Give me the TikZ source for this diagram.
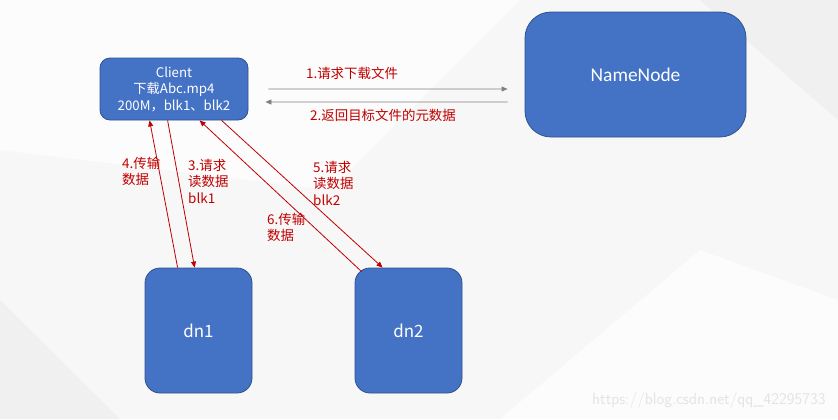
\documentclass[tikz,border=0pt]{standalone}
\usepackage{fontspec}
\setmainfont{Noto Sans CJK SC}
\newfontfamily\latinfont{Carlito}
\usetikzlibrary{arrows.meta, positioning, calc}
\definecolor{boxblue}{HTML}{4472C4}
\definecolor{boxedge}{HTML}{2F528F}
\definecolor{msgred}{HTML}{C00000}
\definecolor{msggray}{HTML}{808080}
\definecolor{bgbase}{HTML}{F7F7F7}
\definecolor{bglight}{HTML}{FCFCFC}
\definecolor{bgdark}{HTML}{F0F0F0}
\definecolor{wmgray}{HTML}{E4E4E4}

\begin{document}
\begin{tikzpicture}[x=1bp, y=-1bp,
  >={Triangle[length=6bp, width=5bp]},
  hostbox/.style={
    draw=boxedge, line width=0.8bp, fill=boxblue, text=white,
    rounded corners=#1, align=center, inner sep=0pt
  },
  hostbox/.default=14bp,
  getarr/.style={->, line width=0.8bp, msggray},
  redarr/.style={->, line width=0.8bp, msgred},
  graylbl/.style={font=\fontsize{13.5}{16}\selectfont, text=msgred, inner sep=0pt},
  redlbl/.style={font=\fontsize{13.5}{16.5}\selectfont, text=msgred, align=left,
    anchor=north west, inner sep=0pt},
]

% Background
\useasboundingbox (0,0) rectangle (838,419);
\fill[bgbase] (0,0) rectangle (838,419);
\fill[bglight] (0,0) -- (520,0) -- (330,190) -- (0,150) -- cycle;
\fill[bglight] (500,419) -- (700,250) -- (838,300) -- (838,419) -- cycle;
\fill[bgdark] (700,0) -- (838,0) -- (838,120) -- cycle;
\fill[bgdark] (0,300) -- (120,419) -- (0,419) -- cycle;

% =============================================
% Hosts
% =============================================
\node[hostbox=10bp, minimum width=148bp, minimum height=62bp,
      font=\fontsize{13.3}{16.5}\selectfont]
  (client) at (174,89)
  {Client\\下载Abc.mp4\\200M，blk1、blk2};

\node[hostbox=26bp, minimum width=221bp, minimum height=125bp,
      font=\latinfont\fontsize{19.5}{22}\selectfont]
  (nn) at (635.5,74.5) {NameNode};

\node[hostbox=15bp, minimum width=107bp, minimum height=125bp,
      font=\fontsize{17}{20}\selectfont]
  (dn1) at (198.5,330.5) {dn1};

\node[hostbox=15bp, minimum width=107bp, minimum height=125bp,
      font=\fontsize{17}{20}\selectfont]
  (dn2) at (408.5,330.5) {dn2};

% =============================================
% Client <-> NameNode
% =============================================
\coordinate (c-out) at ($(client.east)+(20,0)$);
\coordinate (n-in)  at ($(nn.west)+(-17,14.5)$);
\coordinate (n-out) at ($(nn.west)+(-17,27.5)$);
\coordinate (c-in)  at ($(client.east)+(17,13)$);

\draw[getarr] (c-out) -- (n-in);
\draw[getarr] (n-out) -- (c-in);

\node[graylbl] (ask) at (352,73) {1.请求下载文件};
\node[graylbl] (meta) at (383,115) {2.返回目标文件的元数据};

% =============================================
% Client <-> DataNodes
% =============================================
\coordinate (c4) at ($(client.south west)+(50,0)$);
\coordinate (c3) at ($(client.south west)+(68,0)$);
\coordinate (c6) at ($(client.south west)+(100,0)$);
\coordinate (c5) at ($(client.south west)+(122,0)$);
\coordinate (d4) at ($(dn1.north west)+(33,0)$);
\coordinate (d3) at ($(dn1.north west)+(50,0)$);
\coordinate (d6) at ($(dn2.north west)+(7,4)$);
\coordinate (d5) at ($(dn2.north west)+(28,0)$);

\draw[redarr] (d4) -- (c4);
\draw[redarr] (c3) -- (d3);
\draw[redarr] (d6) -- (c6);
\draw[redarr] (c5) -- (d5);

\node[redlbl] (send1) at (122,157) {4.传输\\数据};
\node[redlbl] (read1) at (188,159) {3.请求\\读数据\\blk1};
\node[redlbl] (read2) at (313,161) {5.请求\\读数据\\blk2};
\node[redlbl] (send2) at (267,213) {6.传输\\数据};

% Watermark
\node[font=\fontsize{16.5}{18}\selectfont\sffamily, text=wmgray, anchor=east]
  (wm) at (829,400) {https://blog.csdn.net/qq\_42295733};

\end{tikzpicture}
\end{document}
